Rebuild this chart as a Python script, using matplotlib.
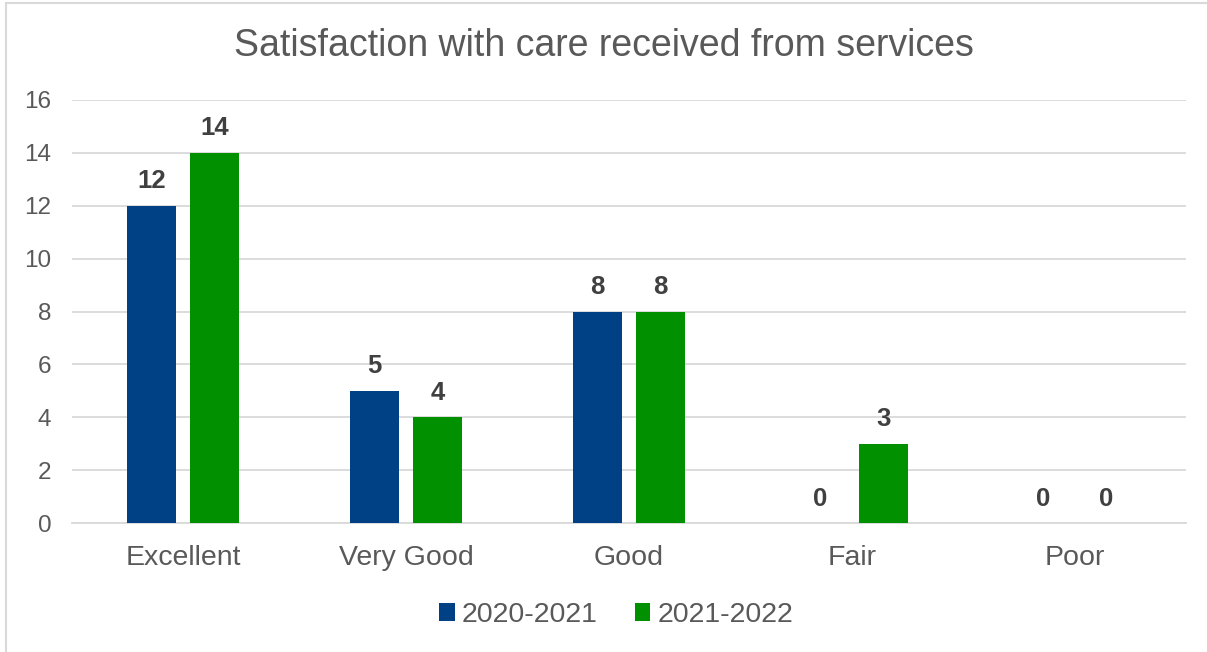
import numpy as np
import matplotlib.pyplot as plt
from matplotlib.patches import Rectangle

plt.rcParams['font.family'] = ['Liberation Sans', 'DejaVu Sans']

# Datos del gráfico
categorias = ['Excellent', 'Very Good', 'Good', 'Fair', 'Poor']
valores_2020 = [12, 5, 8, 0, 0]
valores_2021 = [14, 4, 8, 3, 0]
series = ['2020-2021', '2021-2022']
ticks_y = [0, 2, 4, 6, 8, 10, 12, 14, 16]

AZUL = '#004185'
VERDE = '#009000'
GRIS_TEXTO = '#595959'
GRIS_LINEA = '#d9d9d9'

W, H = 1207, 652
fig = plt.figure(figsize=(W / 100, H / 100), dpi=100)
fig.patch.set_facecolor('white')

# Borde del área del gráfico
fig.add_artist(Rectangle((6 / W, -0.05), 1.2, (H - 3) / H + 0.05,
                         transform=fig.transFigure, fill=False,
                         edgecolor=GRIS_LINEA, linewidth=1.5))

ax = fig.add_axes([72 / W, (H - 523) / H, (1186 - 72) / W, 423 / H])

x = np.arange(len(categorias))
ancho = 0.22
desp = 0.141

b1 = ax.bar(x - desp, valores_2020, ancho, color=AZUL, label=series[0], zorder=3)
b2 = ax.bar(x + desp, valores_2021, ancho, color=VERDE, label=series[1], zorder=3)

for barras in (b1, b2):
    ax.bar_label(barras, padding=9, fontsize=18.5, fontweight='bold', color='#404040')

ax.set_xlim(-0.5, len(categorias) - 0.5)
ax.set_ylim(0, 16)
ax.set_yticks(ticks_y)
ax.set_xticks(x)
ax.set_xticklabels(categorias)
ax.tick_params(axis='x', length=0, pad=16, labelsize=20.5, labelcolor=GRIS_TEXTO)
ax.tick_params(axis='y', length=0, pad=15, labelsize=17.5, labelcolor=GRIS_TEXTO)
ax.grid(axis='y', color=GRIS_LINEA, linewidth=1.3, zorder=0)
for lado in ['top', 'right', 'left']:
    ax.spines[lado].set_visible(False)
ax.spines['bottom'].set_color(GRIS_LINEA)
ax.spines['bottom'].set_linewidth(1.3)

fig.text(0.5, (H - 46) / H, 'Satisfaction with care received from services',
         ha='center', va='center', fontsize=27, color=GRIS_TEXTO)

leg = fig.legend(loc='center', bbox_to_anchor=(616 / W, (H - 615) / H), ncol=2,
                 frameon=False, fontsize=20.5, handlelength=0.55, handleheight=0.55,
                 handletextpad=0.25, columnspacing=1.3)
for t in leg.get_texts():
    t.set_color(GRIS_TEXTO)

fig.savefig('out.png', dpi=100)
